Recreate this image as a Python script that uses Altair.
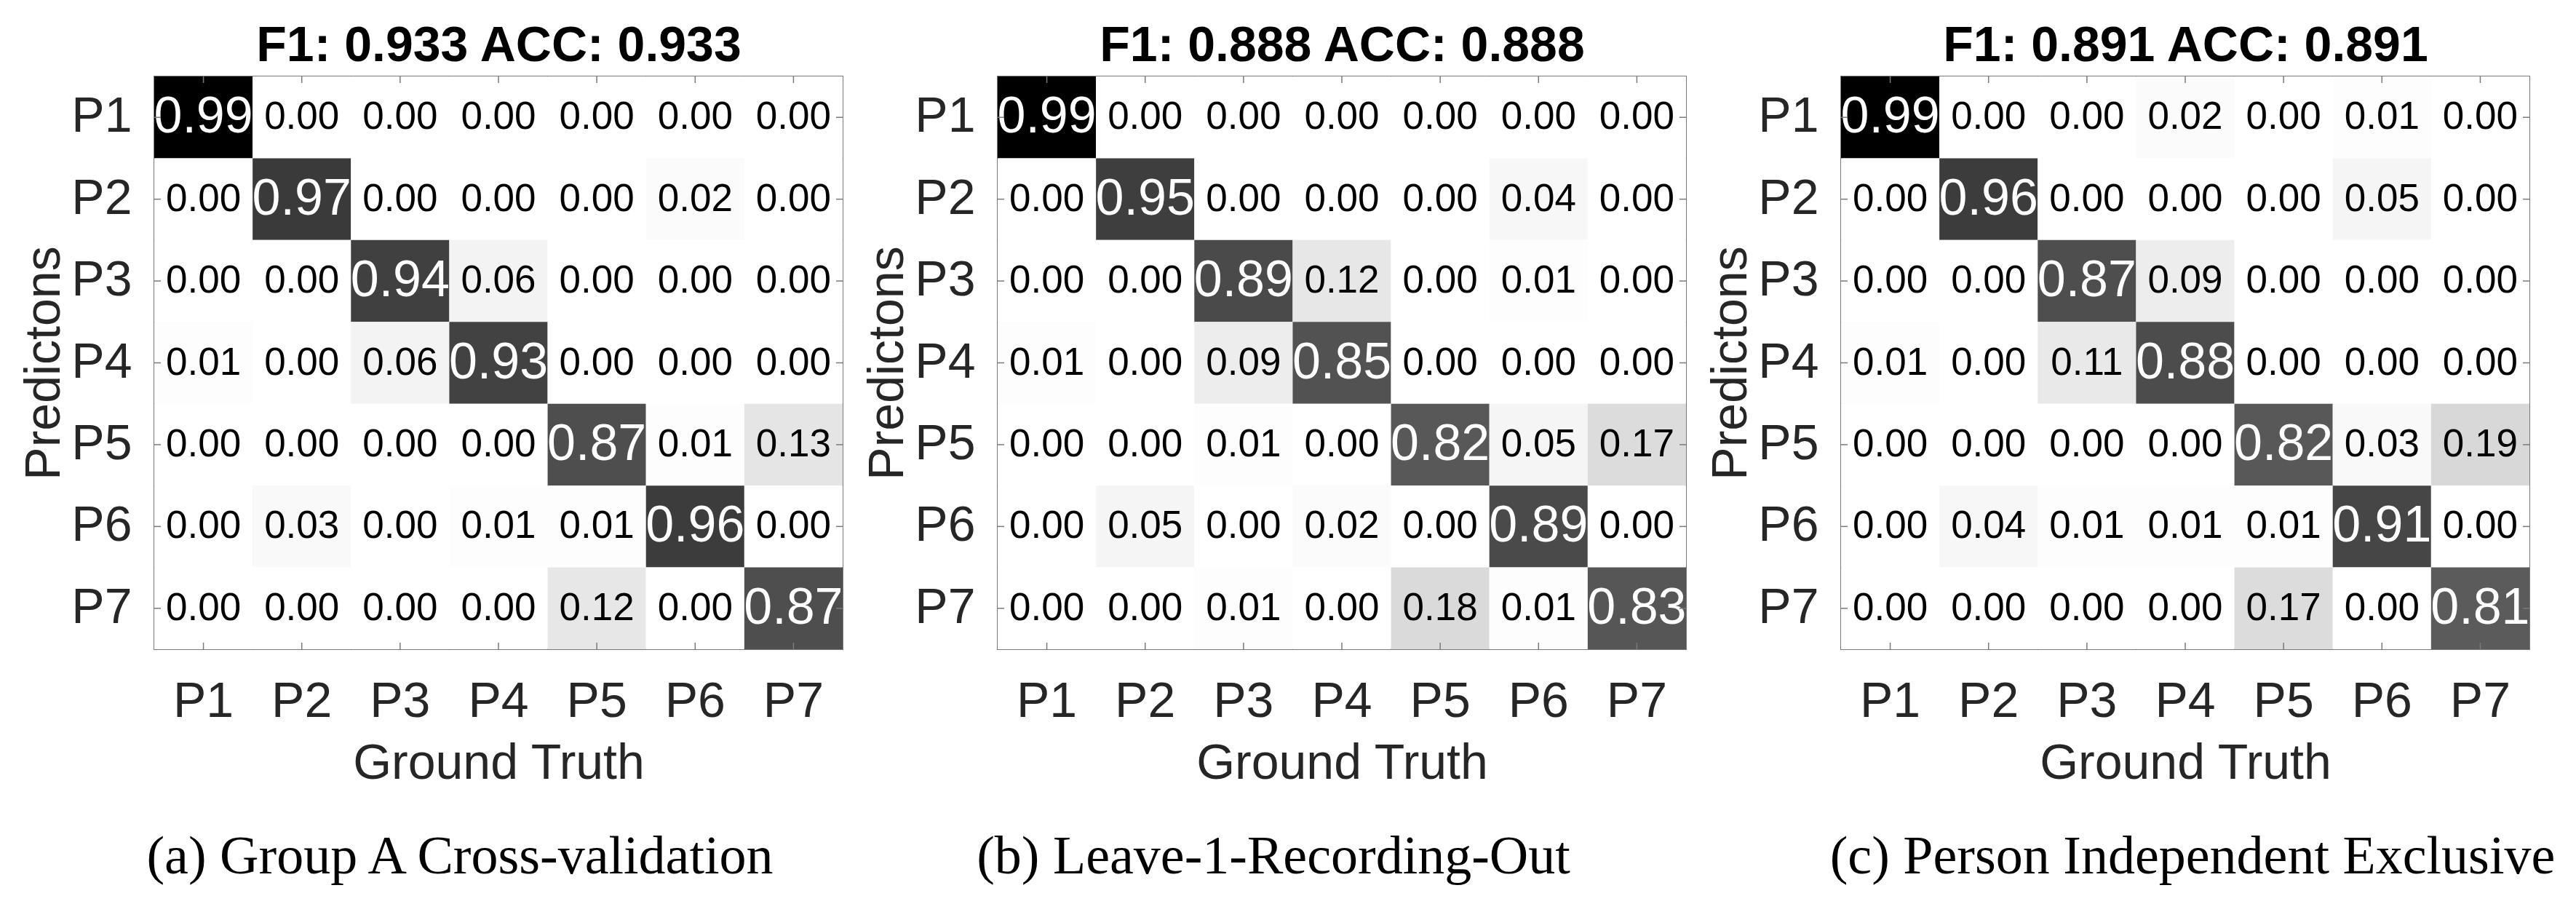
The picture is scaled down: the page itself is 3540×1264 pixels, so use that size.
import altair as alt
import pandas as pd

classes = ["P1", "P2", "P3", "P4", "P5", "P6", "P7"]

# rows = Predictions (P1..P7), columns = Ground Truth (P1..P7)
vals_a = [
    [0.99, 0.00, 0.00, 0.00, 0.00, 0.00, 0.00],
    [0.00, 0.97, 0.00, 0.00, 0.00, 0.02, 0.00],
    [0.00, 0.00, 0.94, 0.06, 0.00, 0.00, 0.00],
    [0.01, 0.00, 0.06, 0.93, 0.00, 0.00, 0.00],
    [0.00, 0.00, 0.00, 0.00, 0.87, 0.01, 0.13],
    [0.00, 0.03, 0.00, 0.01, 0.01, 0.96, 0.00],
    [0.00, 0.00, 0.00, 0.00, 0.12, 0.00, 0.87],
]
vals_b = [
    [0.99, 0.00, 0.00, 0.00, 0.00, 0.00, 0.00],
    [0.00, 0.95, 0.00, 0.00, 0.00, 0.04, 0.00],
    [0.00, 0.00, 0.89, 0.12, 0.00, 0.01, 0.00],
    [0.01, 0.00, 0.09, 0.85, 0.00, 0.00, 0.00],
    [0.00, 0.00, 0.01, 0.00, 0.82, 0.05, 0.17],
    [0.00, 0.05, 0.00, 0.02, 0.00, 0.89, 0.00],
    [0.00, 0.00, 0.01, 0.00, 0.18, 0.01, 0.83],
]
vals_c = [
    [0.99, 0.00, 0.00, 0.02, 0.00, 0.01, 0.00],
    [0.00, 0.96, 0.00, 0.00, 0.00, 0.05, 0.00],
    [0.00, 0.00, 0.87, 0.09, 0.00, 0.00, 0.00],
    [0.01, 0.00, 0.11, 0.88, 0.00, 0.00, 0.00],
    [0.00, 0.00, 0.00, 0.00, 0.82, 0.03, 0.19],
    [0.00, 0.04, 0.01, 0.01, 0.01, 0.91, 0.00],
    [0.00, 0.00, 0.00, 0.00, 0.17, 0.00, 0.81],
]

headers = ["F1: 0.933 ACC: 0.933", "F1: 0.888 ACC: 0.888", "F1: 0.891 ACC: 0.891"]
captions = ["(a) Group A Cross-validation", "(b) Leave-1-Recording-Out",
            "(c) Person Independent Exclusive"]
caption_dx = [-53, -94, 10]

W, H = 946, 787
TICK = 9
AXIS_GRAY = "#7a7a7a"
LABEL_GRAY = "#262626"
SANS = "Liberation Sans"
SERIF = "Liberation Serif"


def long_df(mat):
    rows = []
    for i, p in enumerate(classes):
        for j, g in enumerate(classes):
            rows.append({"pred": p, "gt": g, "v": mat[i][j]})
    return pd.DataFrame(rows)


cat_df = pd.DataFrame({"c": classes})


def panel(mat, header, caption, dx):
    df = long_df(mat)
    xs = alt.Scale(domain=classes, paddingInner=0, paddingOuter=0)
    ys = alt.Scale(domain=classes, paddingInner=0, paddingOuter=0)

    x_bottom = alt.X("gt:N", scale=xs, axis=alt.Axis(
        orient="bottom", title="Ground Truth", ticks=False, domain=False, grid=False,
        labelAngle=0, labelPadding=38, labelFontSize=68, labelColor=LABEL_GRAY,
        labelFont=SANS, titleFont=SANS, titleFontSize=68, titleColor=LABEL_GRAY,
        titleFontWeight="normal", titleBaseline="alphabetic", titleY=177))
    y_left = alt.Y("pred:N", scale=ys, axis=alt.Axis(
        orient="left", title="Predictons", ticks=False, domain=False, grid=False,
        labelPadding=31, labelFontSize=68, labelColor=LABEL_GRAY, labelFont=SANS,
        titleFont=SANS, titleFontSize=68, titleColor=LABEL_GRAY,
        titleFontWeight="normal", titleBaseline="alphabetic", titleX=-131, titleY=H / 2))

    rect = alt.Chart(df).mark_rect().encode(
        x=x_bottom, y=y_left,
        color=alt.Color("v:Q", scale=alt.Scale(domain=[0, 0.98, 0.99],
                                               range=["#ffffff", "#383838", "#000000"],
                                               interpolate="rgb"), legend=None),
    )
    text = alt.Chart(df).mark_text(font=SANS, baseline="middle", align="center").encode(
        x=alt.X("gt:N", scale=xs, axis=None),
        y=alt.Y("pred:N", scale=ys, axis=None),
        text=alt.Text("v:Q", format=".2f"),
        color=alt.condition(alt.datum.v > 0.5, alt.value("white"), alt.value("black")),
        size=alt.condition(alt.datum.v > 0.5, alt.value(70), alt.value(53)),
    )
    top_axis = alt.Axis(orient="top", title=header, labels=False, ticks=False, domain=False,
                        grid=False, titleFont=SANS, titleFontSize=68, titleFontWeight="bold",
                        titleColor="black", titleBaseline="alphabetic", titleY=-22)
    top_ticks = alt.Chart(cat_df).mark_rule(color=AXIS_GRAY, strokeWidth=1.5).encode(
        x=alt.X("c:N", scale=xs, axis=top_axis), y=alt.value(0), y2=alt.value(TICK))
    bottom_ticks = alt.Chart(cat_df).mark_rule(color=AXIS_GRAY, strokeWidth=1.5).encode(
        x=alt.X("c:N", scale=xs, axis=None), y=alt.value(H - TICK), y2=alt.value(H))
    left_ticks = alt.Chart(cat_df).mark_rule(color=AXIS_GRAY, strokeWidth=1.5).encode(
        y=alt.Y("c:N", scale=ys, axis=None), x=alt.value(0), x2=alt.value(TICK))
    right_ticks = alt.Chart(cat_df).mark_rule(color=AXIS_GRAY, strokeWidth=1.5).encode(
        y=alt.Y("c:N", scale=ys, axis=None), x=alt.value(W - TICK), x2=alt.value(W))

    return alt.layer(rect, text, top_ticks, bottom_ticks, left_ticks, right_ticks).resolve_axis(
        x="independent", y="independent"
    ).properties(
        width=W, height=H,
        title=alt.TitleParams(caption, orient="bottom", anchor="middle", frame="group", dx=dx,
                              offset=117, baseline="alphabetic", font=SERIF, fontSize=74,
                              fontWeight="normal", color="black"),
    )


panels = [panel(m, h, c, d) for m, h, c, d in zip([vals_a, vals_b, vals_c], headers, captions, caption_dx)]

chart = alt.hconcat(*panels, spacing=25).properties(
    padding={"left": 18, "top": 20, "right": 0, "bottom": 0}
).configure(font=SANS).configure_view(stroke=AXIS_GRAY, strokeWidth=2)

chart.save("out.html", embed_options={"renderer": "svg", "actions": False})
